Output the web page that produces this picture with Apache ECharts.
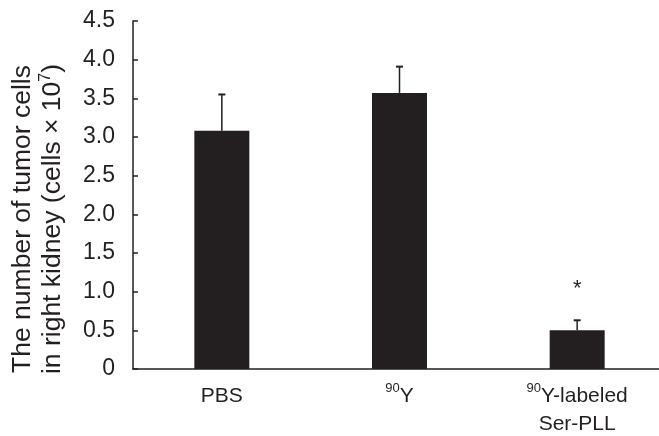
<!DOCTYPE html>
<html>
<head>
<meta charset="utf-8">
<script src="https://cdn.jsdelivr.net/npm/echarts@6/dist/echarts.min.js"></script>
<style>
  html, body { margin: 0; padding: 0; background: #fff; }
  #chart { width: 659px; height: 436px; }
</style>
</head>
<body>
<div id="chart"></div>
<script>
// Treatment groups (a leading "90" is drawn as a superscript isotope number)
const categories = ['PBS', '90Y', '90Y-labeled\nSer-PLL'];
// Mean tumor cell count in right kidney (cells x 10^7)
const meanCells = [3.08, 3.57, 0.50];
// Upper error (SD) above each mean
const errorCells = [0.47, 0.34, 0.13];
// Significance markers
const marks = ['', '', '*'];
// Y-axis ticks
const yMin = 0, yMax = 4.5, yStep = 0.5;

const ink = '#231f20';
const font = '"Liberation Sans", Arial, Helvetica, sans-serif';

const chart = echarts.init(document.getElementById('chart'), null, { renderer: 'canvas' });

chart.setOption({
  backgroundColor: '#ffffff',
  animation: false,
  grid: { left: 133, top: 21, bottom: 67, right: -7, containLabel: false, outerBoundsMode: 'none' },
  xAxis: {
    type: 'category',
    data: categories,
    axisLine: { show: true, lineStyle: { color: ink, width: 1.5 } },
    axisTick: { show: false },
    axisLabel: {
      interval: 0,
      margin: 13,
      color: ink,
      fontFamily: font,
      fontSize: 21,
      lineHeight: 28,
      formatter: v => v.replace(/^90/, '{sup|90}'),
      rich: {
        sup: { fontSize: 13, fontFamily: font, color: ink, verticalAlign: 'top', padding: [0, 0, 1, 0] }
      }
    },
    splitLine: { show: false }
  },
  yAxis: {
    type: 'value',
    min: yMin,
    max: yMax,
    interval: yStep,
    axisLine: { show: true, lineStyle: { color: ink, width: 1.5 } },
    axisTick: { show: true, inside: true, length: 5, lineStyle: { color: ink, width: 1.5 } },
    axisLabel: {
      margin: 18,
      color: ink,
      fontFamily: font,
      fontSize: 23,
      formatter: v => (v === 0 ? '0' : v.toFixed(1))
    },
    splitLine: { show: false },
    name: 'The number of tumor cells\nin right kidney (cells × 10{sup|7})',
    nameLocation: 'middle',
    nameRotate: 90,
    nameGap: 65,
    nameTextStyle: {
      color: ink,
      fontFamily: font,
      fontSize: 26.5,
      lineHeight: 30,
      padding: [0, 48, 0, 0],
      rich: {
        sup: { fontSize: 16, fontFamily: font, color: ink, verticalAlign: 'top', padding: [0, 0, 4, 0] }
      }
    }
  },
  series: [
    {
      type: 'bar',
      data: meanCells,
      barWidth: 55,
      itemStyle: { color: ink },
      silent: true
    },
    {
      type: 'custom',
      data: meanCells.map((m, i) => [i, m, errorCells[i]]),
      encode: { x: 0, y: 1 },
      silent: true,
      z: 5,
      renderItem: (params, api) => {
        const idx = api.value(0);
        const mean = api.value(1);
        const err = api.value(2);
        const base = api.coord([idx, mean]);
        const top = api.coord([idx, mean + err]);
        const half = 3.5;
        const children = [
          { type: 'line', shape: { x1: base[0], y1: base[1], x2: top[0], y2: top[1] },
            style: { stroke: ink, lineWidth: 1.5 } },
          { type: 'line', shape: { x1: top[0] - half, y1: top[1], x2: top[0] + half, y2: top[1] },
            style: { stroke: ink, lineWidth: 2 } }
        ];
        const mark = marks[params.dataIndex];
        if (mark) {
          children.push({
            type: 'text',
            x: top[0],
            y: top[1] - 31,
            style: { text: mark, fill: ink, font: '22px ' + font, align: 'center', verticalAlign: 'middle' }
          });
        }
        return { type: 'group', children };
      }
    }
  ]
});
</script>
</body>
</html>
